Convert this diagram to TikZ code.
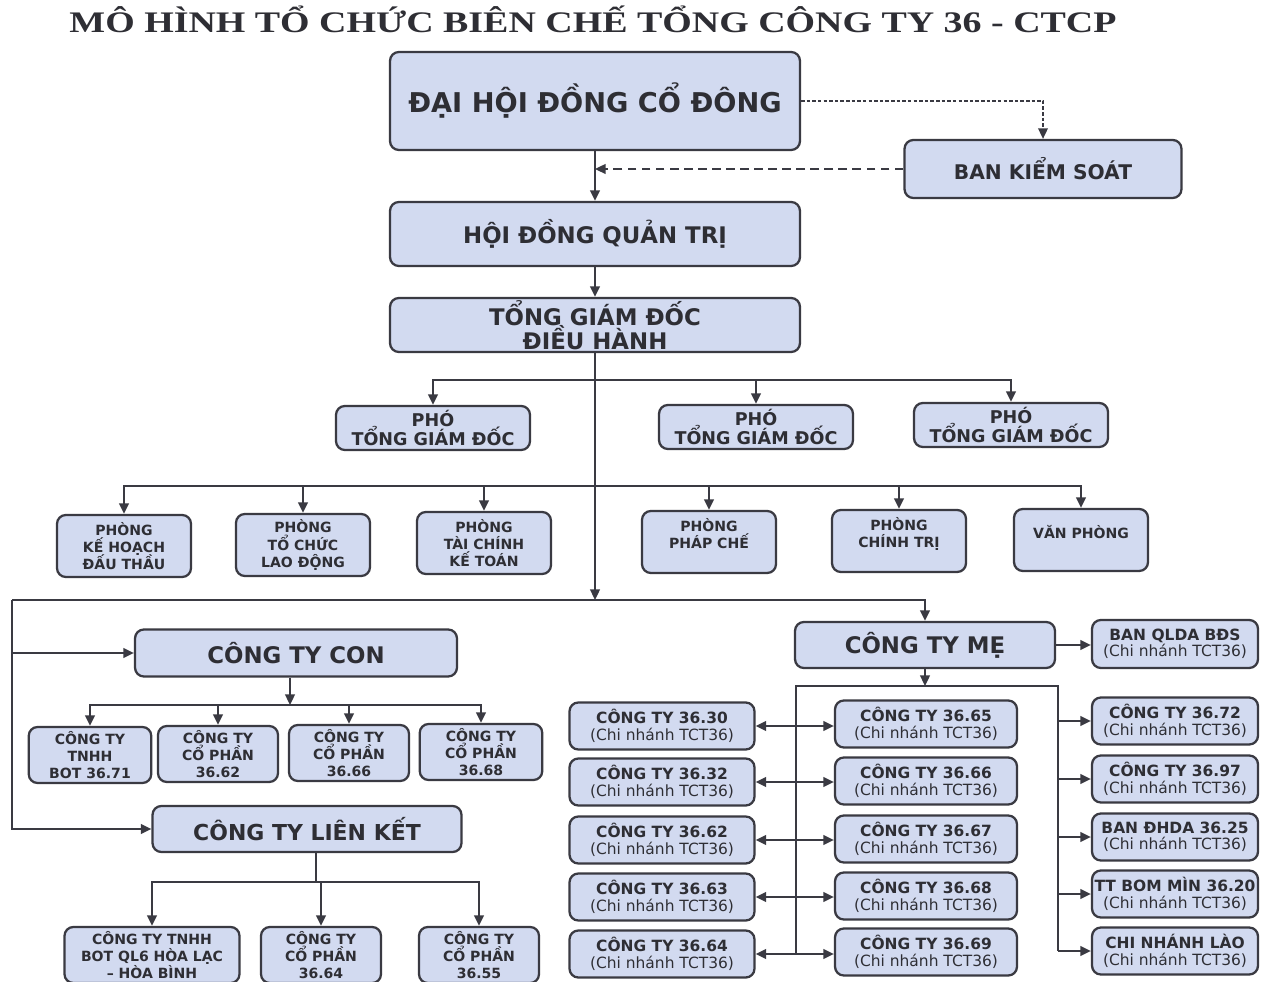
\documentclass[tikz,border=0pt]{standalone}
\usepackage{fontspec}
\setmainfont{DejaVu Sans}
\newfontfamily\titlefont{Liberation Serif}
\usetikzlibrary{arrows.meta}
\definecolor{boxfill}{HTML}{D2DAF0}
\definecolor{boxline}{HTML}{3A3A42}
\definecolor{boxtext}{HTML}{2E2E34}
\lineskiplimit=-20pt
\lineskip=0pt

\begin{document}
\begin{tikzpicture}[x=0.02cm, y=-0.02cm, >={Triangle[length=6pt,width=5.5pt]}]
    \tikzstyle{box} = [draw=boxline, line width=1.3pt, fill=boxfill, text=boxtext, rounded corners=5pt, align=center, inner sep=1pt]
    \tikzstyle{link} = [draw=boxline, line width=1.1pt]
    \tikzstyle{bigfont} = [font=\fontsize{15.5}{18}\selectfont\bfseries]
    \tikzstyle{midfont} = [font=\fontsize{13}{13.8}\selectfont\bfseries]
    \tikzstyle{phofont} = [font=\fontsize{10}{11}\selectfont\bfseries]
    \tikzstyle{smallfont} = [font=\fontsize{8}{9.7}\selectfont\bfseries]
    \tikzstyle{cnfont} = [font=\fontsize{8.8}{9.4}\selectfont\bfseries]
    \useasboundingbox (0,0) rectangle (1288,982);
    \clip (0,0) rectangle (1288,982);
    \fill[white] (0,0) rectangle (1288,982);

    \node[font=\titlefont\fontsize{17}{20}\selectfont\bfseries, text=boxtext, anchor=base] (title) at (593,33)
      {\scalebox{1.27}[1]{MÔ HÌNH TỔ CHỨC BIÊN CHẾ TỔNG CÔNG TY 36 - CTCP}};

    \node[box, bigfont, minimum width=8.2cm, minimum height=1.96cm] (dhdcd) at (595,101) {ĐẠI HỘI ĐỒNG CỔ ĐÔNG};
    \node[box, font=\fontsize{11.5}{13}\selectfont\bfseries, minimum width=5.54cm, minimum height=1.16cm] (bks) at (1043,169) {BAN KIỂM SOÁT};
    \node[box, midfont, minimum width=8.2cm, minimum height=1.28cm] (hdqt) at (595,234) {HỘI ĐỒNG QUẢN TRỊ};
    \node[box, midfont, minimum width=8.2cm, minimum height=1.08cm] (tgd) at (595,325) {TỔNG GIÁM ĐỐC\\ĐIỀU HÀNH};

    \node[box, phofont, minimum width=3.88cm, minimum height=0.88cm] (pho1) at (433,428) {PHÓ\\TỔNG GIÁM ĐỐC};
    \node[box, phofont, minimum width=3.88cm, minimum height=0.88cm] (pho2) at (756,427) {PHÓ\\TỔNG GIÁM ĐỐC};
    \node[box, phofont, minimum width=3.88cm, minimum height=0.88cm] (pho3) at (1011,425) {PHÓ\\TỔNG GIÁM ĐỐC};

    \node[box, smallfont, minimum width=2.68cm, minimum height=1.24cm] (phong1) at (124,546) {PHÒNG\\KẾ HOẠCH\\ĐẤU THẦU};
    \node[box, smallfont, minimum width=2.68cm, minimum height=1.24cm] (phong2) at (303,545) {PHÒNG\\TỔ CHỨC\\LAO ĐỘNG};
    \node[box, smallfont, minimum width=2.68cm, minimum height=1.24cm] (phong3) at (484,543) {PHÒNG\\TÀI CHÍNH\\KẾ TOÁN};
    \node[box, smallfont, minimum width=2.68cm, minimum height=1.24cm] (phong4) at (709,542) {PHÒNG\\PHÁP CHẾ\\\mbox{}};
    \node[box, smallfont, minimum width=2.68cm, minimum height=1.24cm] (phong5) at (899,541) {PHÒNG\\CHÍNH TRỊ\\\mbox{}};
    \node[box, smallfont, minimum width=2.68cm, minimum height=1.24cm] (phong6) at (1081,540) {VĂN PHÒNG\\\mbox{}};

    \node[box, midfont, minimum width=6.44cm, minimum height=0.94cm] (con) at (296,653) {CÔNG TY CON};
    \node[box, smallfont, minimum width=2.45cm, minimum height=1.12cm] (con1) at (90,755) {CÔNG TY\\TNHH\\BOT 36.71};
    \node[box, smallfont, minimum width=2.4cm, minimum height=1.12cm] (con2) at (218,754) {CÔNG TY\\CỔ PHẦN\\36.62};
    \node[box, smallfont, minimum width=2.4cm, minimum height=1.12cm] (con3) at (349,753) {CÔNG TY\\CỔ PHẦN\\36.66};
    \node[box, smallfont, minimum width=2.45cm, minimum height=1.12cm] (con4) at (481,752) {CÔNG TY\\CỔ PHẦN\\36.68};

    \node[box, font=\fontsize{12.5}{14}\selectfont\bfseries, minimum width=6.18cm, minimum height=0.92cm] (lk) at (307,829) {CÔNG TY LIÊN KẾT};
    \node[box, smallfont, minimum width=3.5cm, minimum height=1.12cm] (lk1) at (152,955) {CÔNG TY TNHH\\BOT QL6 HÒA LẠC\\– HÒA BÌNH};
    \node[box, smallfont, minimum width=2.4cm, minimum height=1.12cm] (lk2) at (321,955) {CÔNG TY\\CỔ PHẦN\\36.64};
    \node[box, smallfont, minimum width=2.4cm, minimum height=1.12cm] (lk3) at (479,955) {CÔNG TY\\CỔ PHẦN\\36.55};

    \node[box, midfont, minimum width=5.2cm, minimum height=0.92cm] (me) at (925,645) {CÔNG TY MẸ};
    \node[box, cnfont, minimum width=3.32cm, minimum height=0.96cm] (qlda) at (1175,644) {BAN QLDA BĐS\\{\mdseries (Chi nhánh TCT36)}};

    \node[box, cnfont, minimum width=3.7cm, minimum height=0.94cm] (ct30) at (662,726) {CÔNG TY 36.30\\{\mdseries (Chi nhánh TCT36)}};
    \node[box, cnfont, minimum width=3.7cm, minimum height=0.94cm] (ct32) at (662,782) {CÔNG TY 36.32\\{\mdseries (Chi nhánh TCT36)}};
    \node[box, cnfont, minimum width=3.7cm, minimum height=0.94cm] (ct62) at (662,840) {CÔNG TY 36.62\\{\mdseries (Chi nhánh TCT36)}};
    \node[box, cnfont, minimum width=3.7cm, minimum height=0.94cm] (ct63) at (662,897) {CÔNG TY 36.63\\{\mdseries (Chi nhánh TCT36)}};
    \node[box, cnfont, minimum width=3.7cm, minimum height=0.94cm] (ct64) at (662,954) {CÔNG TY 36.64\\{\mdseries (Chi nhánh TCT36)}};

    \node[box, cnfont, minimum width=3.64cm, minimum height=0.94cm] (ct65) at (926,724) {CÔNG TY 36.65\\{\mdseries (Chi nhánh TCT36)}};
    \node[box, cnfont, minimum width=3.64cm, minimum height=0.94cm] (ct66) at (926,781) {CÔNG TY 36.66\\{\mdseries (Chi nhánh TCT36)}};
    \node[box, cnfont, minimum width=3.64cm, minimum height=0.94cm] (ct67) at (926,839) {CÔNG TY 36.67\\{\mdseries (Chi nhánh TCT36)}};
    \node[box, cnfont, minimum width=3.64cm, minimum height=0.94cm] (ct68) at (926,896) {CÔNG TY 36.68\\{\mdseries (Chi nhánh TCT36)}};
    \node[box, cnfont, minimum width=3.64cm, minimum height=0.94cm] (ct69) at (926,952) {CÔNG TY 36.69\\{\mdseries (Chi nhánh TCT36)}};

    \node[box, cnfont, minimum width=3.32cm, minimum height=0.94cm] (ct72) at (1175,721) {CÔNG TY 36.72\\{\mdseries (Chi nhánh TCT36)}};
    \node[box, cnfont, minimum width=3.32cm, minimum height=0.94cm] (ct97) at (1175,779) {CÔNG TY 36.97\\{\mdseries (Chi nhánh TCT36)}};
    \node[box, cnfont, minimum width=3.32cm, minimum height=0.94cm] (dhda) at (1175,837) {BAN ĐHDA 36.25\\{\mdseries (Chi nhánh TCT36)}};
    \node[box, cnfont, minimum width=3.32cm, minimum height=0.94cm] (bommin) at (1175,894) {TT BOM MÌN 36.20\\{\mdseries (Chi nhánh TCT36)}};
    \node[box, cnfont, minimum width=3.32cm, minimum height=0.94cm] (lao) at (1175,951) {CHI NHÁNH LÀO\\{\mdseries (Chi nhánh TCT36)}};

    \coordinate (pbus) at (595,380);
    \coordinate (fbus) at (595,486);
    \coordinate (hub) at (595,600);
    \coordinate (lft) at (12,600);
    \coordinate (cbus) at (290,705);
    \coordinate (kbus) at (316,882);
    \coordinate (busl) at (796,686);
    \coordinate (busr) at (1058,686);

    \draw[link, ->] (dhdcd.south) -- (hdqt.north);
    \draw[link, ->, line width=0.8pt, dash pattern=on 2pt off 1.2pt] (dhdcd.east) -| (bks.north);
    \draw[link, ->, dash pattern=on 5pt off 3pt] (bks.west) -- (bks.west -| dhdcd.south);
    \draw[link, ->] (hdqt.south) -- (tgd.north);
    \draw[link, ->] (tgd.south) -- (hub);
    \draw[link, ->] (pbus) -| (pho1.north);
    \draw[link, ->] (pbus) -| (pho2.north);
    \draw[link, ->] (pbus) -| (pho3.north);
    \draw[link, ->] (fbus) -| (phong1.north);
    \draw[link, ->] (fbus) -| (phong2.north);
    \draw[link, ->] (fbus) -| (phong3.north);
    \draw[link, ->] (fbus) -| (phong4.north);
    \draw[link, ->] (fbus) -| (phong5.north);
    \draw[link, ->] (fbus) -| (phong6.north);

    \draw[link, ->] (lft) -| (me.north);
    \draw[link, ->] (lft) |- (con.west);
    \draw[link, ->] (lft) |- (lk.west);

    \draw[link, ->] (con.south -| cbus) -- (cbus);
    \draw[link, ->] (cbus) -| (con1.north);
    \draw[link, ->] (cbus) -| (con2.north);
    \draw[link, ->] (cbus) -| (con3.north);
    \draw[link, ->] (cbus) -| (con4.north);

    \draw[link] (lk.south -| kbus) -- (kbus);
    \draw[link, ->] (kbus) -| (lk1.north);
    \draw[link, ->] (kbus) -| (lk2.north);
    \draw[link, ->] (kbus) -| (lk3.north);

    \draw[link, ->] (me.east) -- (me.east -| qlda.west);
    \draw[link, ->] (me.south) -- (me.south |- busl);
    \draw[link] (busl |- ct64.east) -- (busl) -- (busr) -- (busr |- lao.west);
    \draw[link, <->] (ct30.east) -- (ct30.east -| ct65.west);
    \draw[link, <->] (ct32.east) -- (ct32.east -| ct66.west);
    \draw[link, <->] (ct62.east) -- (ct62.east -| ct67.west);
    \draw[link, <->] (ct63.east) -- (ct63.east -| ct68.west);
    \draw[link, <->] (ct64.east) -- (ct64.east -| ct69.west);
    \draw[link, ->] (busr |- ct72.west) -- (ct72.west);
    \draw[link, ->] (busr |- ct97.west) -- (ct97.west);
    \draw[link, ->] (busr |- dhda.west) -- (dhda.west);
    \draw[link, ->] (busr |- bommin.west) -- (bommin.west);
    \draw[link, ->] (busr |- lao.west) -- (lao.west);
\end{tikzpicture}
\end{document}
